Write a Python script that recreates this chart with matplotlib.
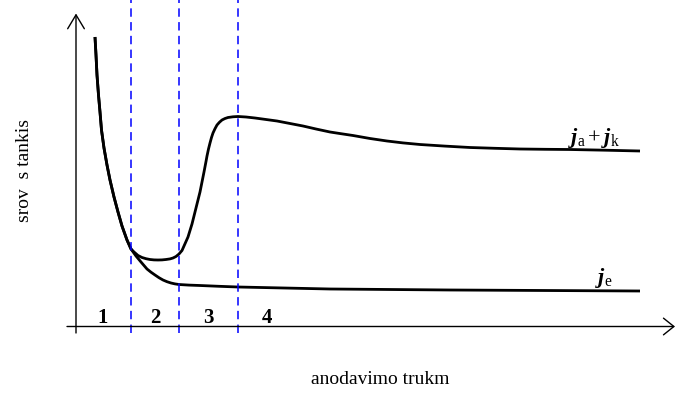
import matplotlib.pyplot as plt

plt.rcParams['font.family'] = ['Liberation Serif', 'DejaVu Serif']
plt.rcParams['mathtext.fontset'] = 'custom'
plt.rcParams['mathtext.rm'] = 'Liberation Serif'
plt.rcParams['mathtext.it'] = 'Liberation Serif:italic'
plt.rcParams['mathtext.bf'] = 'Liberation Serif:bold'
plt.rcParams['mathtext.bfit'] = 'Liberation Serif:bold:italic'

# bendra pradine dalis (abi kreives sutampa)
t_bendra = [19, 20, 21, 22.5, 24, 25.5, 28, 31, 34, 38, 42, 46, 51, 55]
j_bendra = [289.5, 271.5, 251.5, 231.5, 214.5, 196.5, 178.5, 161.5, 146.5,
            129.5, 114.5, 100.5, 86.5, 77.5]

# ja + jk
t_ak = [58, 62, 66, 70, 74, 78, 82, 86, 90, 94, 97, 100, 103, 106, 108, 110,
        112, 114, 116, 118, 120, 122, 124, 126, 128, 130, 131, 132.5, 134,
        135.5, 137, 139, 141, 143.5, 146, 149, 152, 157, 162, 170, 179, 190,
        201, 214, 227, 240, 254, 265, 277, 294, 311, 327, 344, 369, 394, 419,
        444, 469, 494, 529, 564]
j_ak = [74.5, 71, 69, 67.8, 67, 66.6, 66.5, 66.6, 67, 67.6, 68.5, 70, 72.5,
        76, 80.5, 85, 89.5, 96, 102.5, 110.5, 118.5, 126.5, 134.5, 144.5,
        154.5, 165, 170.5, 177.5, 183.5, 189, 193.5, 197.8, 201.5, 204.3,
        206.5, 208, 209, 209.7, 210, 209.5, 208.5, 207, 205.5, 203, 200.5,
        197.5, 194.5, 192.8, 191, 188, 185.5, 183.6, 182, 180.4, 179, 178.2,
        177.5, 177.2, 177, 176.3, 175.5]

# je
t_e = [57.5, 60, 62.5, 65, 68, 71, 75, 79, 83, 87, 91, 95, 99, 103, 113, 124,
       143, 162, 208, 254, 314, 374, 469, 564]
j_e = [74, 70.5, 67.5, 64.5, 61, 57.5, 54.3, 51.5, 48.8, 46.5, 44.8, 43.5,
       42.6, 42, 41.4, 41, 40.2, 39.5, 38.5, 37.5, 37, 36.5, 36, 35.5]

ribos = [55, 103, 162]
sritys = ['1', '2', '3', '4']
sriciu_x = [27, 79, 132, 191]

fig = plt.figure(figsize=(6.75, 3.96), dpi=100)
ax = fig.add_axes([0, 0, 1, 1])
ax.set_xlim(-76, 599)
ax.set_ylim(-69.5, 326.5)
ax.axis('off')

ax.plot(t_bendra + t_ak, j_bendra + j_ak, color='black', lw=2.0,
        solid_joinstyle='round', solid_capstyle='butt')
ax.plot(t_bendra + t_e, j_bendra + j_e, color='black', lw=2.0,
        solid_joinstyle='round', solid_capstyle='butt')

ax.vlines(ribos, -6.5, 326.5, colors='#0000ff', lw=1.1,
          linestyles=(0, (5.5, 3.5)))

# asys su rodyklemis
ax.annotate('', xy=(0, 313), xytext=(0, -6.5), annotation_clip=False,
            arrowprops=dict(arrowstyle='->, head_length=10, head_width=6',
                            mutation_scale=1, lw=1.0, color='black',
                            shrinkA=0, shrinkB=0))
ax.annotate('', xy=(599, 0), xytext=(-9, 0), annotation_clip=False,
            arrowprops=dict(arrowstyle='->, head_length=7.5, head_width=6',
                            mutation_scale=1, lw=1.0, color='black',
                            shrinkA=0, shrinkB=0))

for x, s in zip(sriciu_x, sritys):
    ax.text(x, 3.5, s, fontsize=15, fontweight='bold', ha='center',
            va='baseline')

ax.text(492, 183.5, r'$\mathbfit{j}_{\mathrm{a}}+\mathbfit{j}_{\mathrm{k}}$',
        fontsize=16, ha='left', va='baseline')
ax.text(519, 43.5, r'$\mathbfit{j}_{\mathrm{e}}$', fontsize=16,
        ha='left', va='baseline')

ax.text(-51, 156.5, 'srov  s tankis', fontsize=14, rotation=90,
        ha='center', va='center')
ax.text(304, -57, 'anodavimo trukm', fontsize=14, ha='center',
        va='baseline')

fig.savefig('out.png', dpi=100)
